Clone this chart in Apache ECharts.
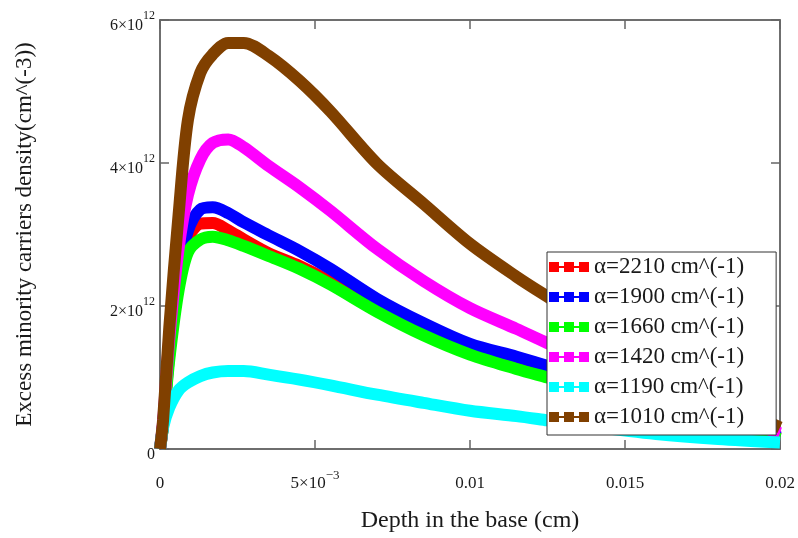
<!DOCTYPE html>
<html>
<head>
<meta charset="utf-8">
<script src="https://cdn.jsdelivr.net/npm/echarts@6/dist/echarts.min.js"></script>
<style>html,body{margin:0;padding:0;background:#fff}#c{width:798px;height:538px}</style>
</head>
<body>
<div id="c"></div>
<script>
// depth in the base (cm)
const depth = [0, 0.0001, 0.0003, 0.0006, 0.0009, 0.0013, 0.0017, 0.0022, 0.0027, 0.0035, 0.0045, 0.0055, 0.007, 0.0085, 0.010, 0.0115, 0.0125, 0.014, 0.016, 0.018, 0.020];
// excess minority carrier density, in units of 10^12 cm^-3
const a2210 = [0, 0.34, 1.33, 2.38, 2.95, 3.15, 3.16, 3.06, 2.93, 2.74, 2.56, 2.34, 1.96, 1.62, 1.36, 1.15, 1.03, 0.84, 0.59, 0.36, 0.14];
const a1900 = [0, 0.35, 1.40, 2.45, 3.05, 3.35, 3.38, 3.30, 3.17, 2.99, 2.77, 2.52, 2.10, 1.76, 1.47, 1.29, 1.16, 0.95, 0.68, 0.40, 0.16];
const a1660 = [0, 0.33, 1.25, 2.22, 2.75, 2.93, 2.97, 2.92, 2.84, 2.70, 2.52, 2.30, 1.92, 1.59, 1.32, 1.12, 1.00, 0.82, 0.58, 0.35, 0.14];
const a1420 = [0, 0.38, 1.55, 2.80, 3.55, 4.05, 4.28, 4.33, 4.22, 3.96, 3.66, 3.33, 2.80, 2.35, 1.97, 1.68, 1.48, 1.20, 0.85, 0.52, 0.22];
const a1190 = [0, 0.30, 0.58, 0.82, 0.93, 1.02, 1.07, 1.09, 1.09, 1.04, 0.97, 0.89, 0.76, 0.645, 0.535, 0.46, 0.40, 0.31, 0.21, 0.14, 0.09];
const a1010 = [0, 0.41, 1.70, 3.28, 4.60, 5.26, 5.52, 5.68, 5.68, 5.50, 5.15, 4.72, 3.99, 3.43, 2.87, 2.41, 2.13, 1.72, 1.20, 0.72, 0.30];

const seriesNames = ['α=2210 cm^(-1)', 'α=1900 cm^(-1)', 'α=1660 cm^(-1)', 'α=1420 cm^(-1)', 'α=1190 cm^(-1)', 'α=1010 cm^(-1)'];
const seriesValues = [a2210, a1900, a1660, a1420, a1190, a1010];
const seriesColors = ['#ff0000', '#0000ff', '#00ff00', '#ff00ff', '#00ffff', '#804000'];

const yTickLabels = {0: ['0', ''], 2: ['2×10', '12'], 4: ['4×10', '12'], 6: ['6×10', '12']};
const xTickLabels = {'0': ['0', ''], '0.005': ['5×10', '−3'], '0.01': ['0.01', ''], '0.015': ['0.015', ''], '0.02': ['0.02', '']};

const FONT = "'Liberation Serif', 'Times New Roman', serif";
const TXT = '#1a1a1a';
const AX = '#666';

const chart = echarts.init(document.getElementById('c'), null, {renderer: 'canvas'});
const legendIcon = 'path://M0,0h10v10h-10z M15,0h10v10h-10z M30,0h10v10h-10z M0,4h40v2h-40z';

function rich(fs, sfs, lh) {
  return {
    b: {fontFamily: FONT, fontSize: fs, color: TXT, lineHeight: lh},
    s: {fontFamily: FONT, fontSize: sfs, color: TXT, lineHeight: sfs + 2, verticalAlign: 'top'}
  };
}
const tickStyle = {show: true, inside: true, length: 9, lineStyle: {color: AX, width: 1.5}};
const lineStyleAx = {show: true, onZero: false, lineStyle: {color: AX, width: 1.5}};

const dataSeries = seriesNames.map((n, i) => ({
  name: n, type: 'line', xAxisIndex: 0, yAxisIndex: 0,
  data: depth.map((x, j) => [x, seriesValues[i][j]]),
  showSymbol: false, smooth: 0.3,
  lineStyle: {color: seriesColors[i], width: 12},
  itemStyle: {color: seriesColors[i]},
  emphasis: {disabled: true}
}));
// empty helper series so the mirrored top/right axes are drawn with their ticks
dataSeries.push({type: 'line', xAxisIndex: 1, yAxisIndex: 1, data: [], showSymbol: false, silent: true});

chart.setOption({
  animation: false,
  backgroundColor: '#fff',
  grid: {left: 160, right: 18, top: 20, bottom: 89, show: true, borderColor: AX, borderWidth: 1.5, backgroundColor: 'transparent'},
  legend: {
    orient: 'vertical', left: 547, top: 252,
    backgroundColor: '#fff', borderColor: '#333', borderWidth: 1,
    padding: [3, 32, 6, 2], itemGap: 6, itemWidth: 40, itemHeight: 11, itemTextGap: 10,
    textStyle: {fontFamily: FONT, fontSize: 23, color: TXT, lineHeight: 24},
    data: seriesNames.map((n, i) => ({name: n, icon: legendIcon, itemStyle: {color: seriesColors[i]}})),
    selectedMode: false, z: 10
  },
  xAxis: [{
    type: 'value', min: 0, max: 0.02, interval: 0.005, position: 'bottom',
    name: 'Depth in the base (cm)', nameLocation: 'middle', nameGap: 60,
    nameTextStyle: {fontFamily: FONT, fontSize: 24, color: TXT},
    axisLine: lineStyleAx, axisTick: tickStyle, splitLine: {show: false},
    axisLabel: {
      margin: 20, verticalAlign: 'top',
      formatter: v => { const k = String(+v.toFixed(4)); const t = xTickLabels[k] || [k, '']; return t[1] ? '{b|' + t[0] + '}{s|' + t[1] + '}' : '{b|' + t[0] + '}'; },
      rich: rich(17, 13, 30)
    }
  }, {
    type: 'value', min: 0, max: 0.02, interval: 0.005, position: 'top', show: true,
    axisLine: lineStyleAx, axisLabel: {show: false}, splitLine: {show: false}, axisTick: tickStyle
  }],
  yAxis: [{
    type: 'value', min: 0, max: 6, interval: 2, position: 'left',
    name: 'Excess minority carriers density(cm^(-3))', nameLocation: 'middle', nameGap: 124,
    nameTextStyle: {fontFamily: FONT, fontSize: 23, color: TXT},
    axisLine: lineStyleAx, axisTick: tickStyle, splitLine: {show: false},
    axisLabel: {
      margin: 5, padding: [12, 0, 0, 0],
      formatter: v => { const t = yTickLabels[Math.round(v)]; return t[1] ? '{b|' + t[0] + '}{s|' + t[1] + '}' : '{b|' + t[0] + '}'; },
      rich: rich(16, 12, 32)
    }
  }, {
    type: 'value', min: 0, max: 6, interval: 2, position: 'right', show: true,
    axisLine: lineStyleAx, axisLabel: {show: false}, splitLine: {show: false}, axisTick: tickStyle
  }],
  series: dataSeries
});
</script>
</body>
</html>
